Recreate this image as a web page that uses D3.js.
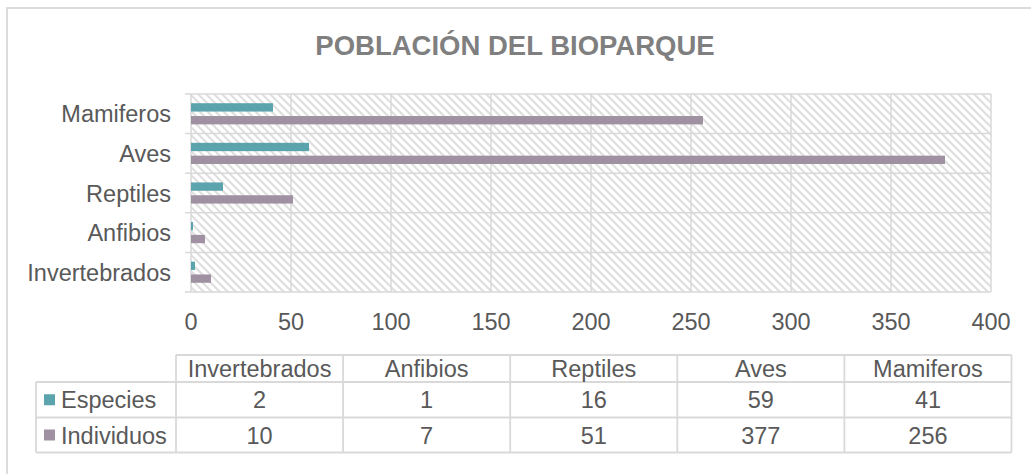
<!DOCTYPE html>
<html><head><meta charset="utf-8">
<script src="https://cdn.jsdelivr.net/npm/d3@7"></script>
<style>html,body{margin:0;padding:0;background:#fff;} svg{display:block;font-family:"Liberation Sans",Arial,sans-serif;}</style>
</head><body>
<svg id="c" width="1031" height="474"></svg>
<script>
const title = "POBLACIÓN DEL BIOPARQUE";
const categories = ["Invertebrados", "Anfibios", "Reptiles", "Aves", "Mamiferos"];
const seriesNames = ["Especies", "Individuos"];
const especies = [2, 1, 16, 59, 41];
const individuos = [10, 7, 51, 377, 256];
const xTicks = [0, 50, 100, 150, 200, 250, 300, 350, 400];
const colors = ["#5BA3AD", "#9F90A2"];

const seriesValues = [especies, individuos];
const svg = d3.select("#c");
const grid = "#d9d9d9", txt = "#595959";

// outer border
svg.append("rect").attr("x", 7).attr("y", 8).attr("width", 1040).attr("height", 480)
  .attr("fill", "#fff").attr("stroke", grid).attr("stroke-width", 1.8);

// title
svg.append("text").attr("x", 515).attr("y", 55).attr("text-anchor", "middle")
  .attr("font-size", 27.5).attr("font-weight", "bold").attr("fill", "#7f7f7f").text(title);

// pattern
const defs = svg.append("defs");
const pat = defs.append("pattern").attr("id", "hatch").attr("patternUnits", "userSpaceOnUse")
  .attr("width", 8).attr("height", 8);
pat.append("rect").attr("width", 8).attr("height", 8).attr("fill", "#fff");
pat.append("path").attr("d", "M-2,-2 L10,10 M-2,6 L2,10 M6,-2 L10,2")
  .attr("stroke", "#dedede").attr("stroke-width", 2);

const L = 191, R = 991, T = 94, B = 292;
const x = d3.scaleLinear().domain([0, 400]).range([L, R]);
const y = d3.scaleBand().domain(categories.slice().reverse()).range([T, B]).padding(0);
const ys = d3.scaleBand().domain(seriesNames).range([0, y.bandwidth()]).paddingInner(0.35).paddingOuter(0.72);

svg.append("rect").attr("x", L).attr("y", T).attr("width", R - L).attr("height", B - T).attr("fill", "url(#hatch)");

// vertical gridlines
svg.append("g").selectAll("line").data(xTicks).join("line")
  .attr("x1", d => x(d)).attr("x2", d => x(d)).attr("y1", T).attr("y2", B)
  .attr("stroke", grid).attr("stroke-width", 1.5);
// horizontal category boundaries with ticks
const bounds = categories.map(c => y(c)).concat([B]);
svg.append("g").selectAll("line").data(bounds).join("line")
  .attr("x1", L - 6).attr("x2", R).attr("y1", d => d).attr("y2", d => d)
  .attr("stroke", grid).attr("stroke-width", 1.5);

// bars
seriesNames.forEach((s, si) => {
  svg.append("g").selectAll("rect").data(categories).join("rect")
    .attr("x", x(0)).attr("y", c => y(c) + ys(s))
    .attr("width", (c, i) => x(seriesValues[si][i]) - x(0))
    .attr("height", ys.bandwidth()).attr("fill", colors[si]);
});

// category labels
svg.append("g").selectAll("text").data(categories).join("text")
  .attr("x", 171).attr("y", c => y(c) + y.bandwidth() / 2 + 8.5)
  .attr("text-anchor", "end").attr("font-size", 23.5).attr("fill", txt).text(c => c);

// x tick labels
svg.append("g").selectAll("text").data(xTicks).join("text")
  .attr("x", d => x(d)).attr("y", 330).attr("text-anchor", "middle")
  .attr("font-size", 23.5).attr("fill", txt).text(d => d);

// data table
const cx = d3.scaleBand().domain(categories).range([176, 1011.5]);
const rowsY = [355, 382, 417.5, 452.5];
const tb = svg.append("g");
// header
tb.append("line").attr("x1", 176).attr("x2", 1011.5).attr("y1", rowsY[0]).attr("y2", rowsY[0]).attr("stroke", grid).attr("stroke-width", 1.8);
[rowsY[1], rowsY[2], rowsY[3]].forEach(yy => tb.append("line").attr("x1", 36).attr("x2", 1011.5).attr("y1", yy).attr("y2", yy).attr("stroke", grid).attr("stroke-width", 1.8));
tb.append("line").attr("x1", 36).attr("x2", 36).attr("y1", rowsY[1]).attr("y2", rowsY[3]).attr("stroke", grid).attr("stroke-width", 1.8);
categories.concat([null]).forEach((c, i) => {
  const xx = c ? cx(c) : 1011.5;
  tb.append("line").attr("x1", xx).attr("x2", xx).attr("y1", rowsY[0]).attr("y2", rowsY[3]).attr("stroke", grid).attr("stroke-width", 1.8);
});
tb.selectAll("text.h").data(categories).join("text").attr("class", "h")
  .attr("x", c => cx(c) + cx.bandwidth() / 2).attr("y", (rowsY[0] + rowsY[1]) / 2 + 8.5)
  .attr("text-anchor", "middle").attr("font-size", 23.5).attr("fill", txt).text(c => c);
seriesNames.forEach((s, si) => {
  const cy = (rowsY[si + 1] + rowsY[si + 2]) / 2;
  tb.append("rect").attr("x", 44).attr("y", cy - 5.5).attr("width", 11).attr("height", 11).attr("fill", colors[si]);
  tb.append("text").attr("x", 61).attr("y", cy + 8.5).attr("font-size", 23.5).attr("fill", txt).text(s);
  tb.selectAll("text.v" + si).data(categories).join("text").attr("class", "v" + si)
    .attr("x", c => cx(c) + cx.bandwidth() / 2).attr("y", cy + 8.5)
    .attr("text-anchor", "middle").attr("font-size", 23.5).attr("fill", txt)
    .text((c, i) => seriesValues[si][i]);
});
</script>
</body></html>
